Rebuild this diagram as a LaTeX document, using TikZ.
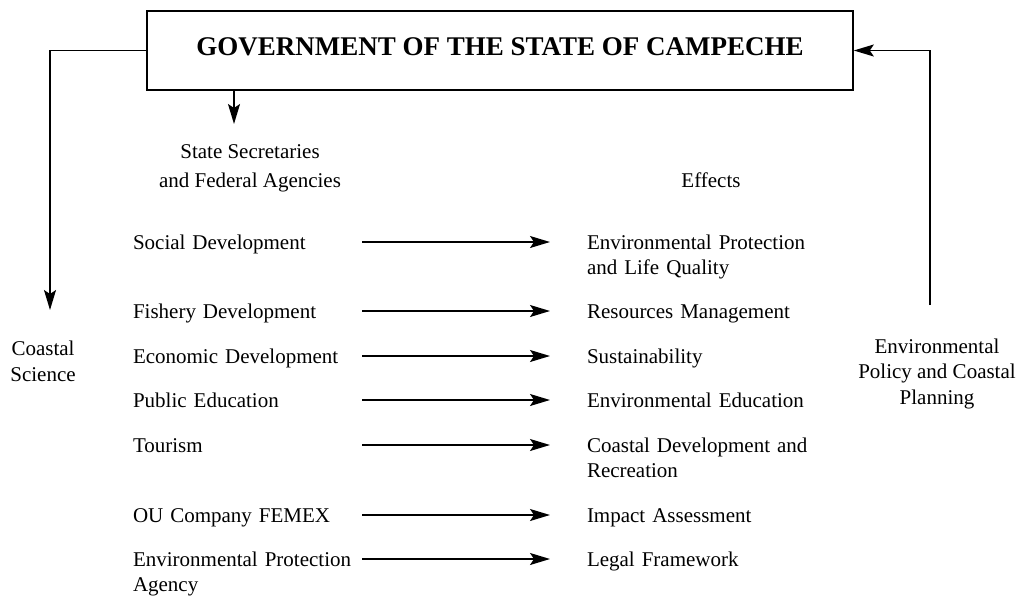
\documentclass[tikz,border=0pt]{standalone}
\usepackage{fontspec}
\setmainfont{Liberation Serif}
\usetikzlibrary{arrows.meta}
\begin{document}
\begin{tikzpicture}[x=1pt,y=-1pt,
  txt/.style={inner sep=0pt, outer sep=0pt, font=\fontsize{21}{25.5}\selectfont},
  lft/.style={txt, anchor=base west, text width=222pt, align=left},
  rgt/.style={txt, anchor=base west, text width=300pt, align=left},
  ctr/.style={txt, anchor=base, align=center},
  arr/.style={line width=1.5pt, -{Stealth[length=20pt,width=12pt,inset=4pt]}},
  link/.style={arr, shorten <=7pt, shorten >=37pt},
  govbox/.style={draw, line width=1.6pt, minimum width=706pt, minimum height=79pt,
    inner sep=0pt, text height=20pt, text depth=11pt,
    font=\fontsize{27}{30}\selectfont\bfseries}
]
\useasboundingbox (0,0) rectangle (1021,595);
\node[govbox] (gov) at (500,50.5) {GOVERNMENT OF THE STATE OF CAMPECHE};

% multi-line centred nodes: base anchor sits on the last line
\node[ctr] (ssfa) at (250,187) {State Secretaries\\[3pt]and Federal Agencies};
\node[ctr] (eff) at (711,187) {Effects};

\node[lft] (l1) at (133,249) {Social Development};
\node[lft] (l2) at (133,318) {Fishery Development};
\node[lft] (l3) at (133,363) {Economic Development};
\node[lft] (l4) at (133,407) {Public Education};
\node[lft] (l5) at (133,452) {Tourism};
\node[lft] (l6) at (133,522) {OU Company FEMEX};
\node[lft] (l7) at (133,566) {Environmental Protection\\Agency};

\node[rgt] (r1) at (587,249) {Environmental Protection\\and Life Quality};
\node[rgt] (r2) at (587,318) {Resources Management};
\node[rgt] (r3) at (587,363) {Sustainability};
\node[rgt] (r4) at (587,407) {Environmental Education};
\node[rgt] (r5) at (587,452) {Coastal Development and\\Recreation};
\node[rgt] (r6) at (587,522) {Impact Assessment};
\node[rgt] (r7) at (587,566) {Legal Framework};

\node[ctr] (cs) at (43,381) {Coastal\\Science};
\node[ctr] (ep) at (937,404) {Environmental\\Policy and Coastal\\Planning};

\foreach \i in {1,...,7}{
  \draw[link] ([yshift=7pt]l\i.base east) -- ([yshift=7pt]r\i.base west);
}

\coordinate (lt) at (50,310);
\coordinate (rb) at (930,305);
\coordinate (dn) at (234,124);
\draw[arr] (gov.west) -| (lt);
\draw[arr] (rb) |- (gov.east);
\draw[arr] (gov.south -| dn) -- (dn);
\end{tikzpicture}
\end{document}
